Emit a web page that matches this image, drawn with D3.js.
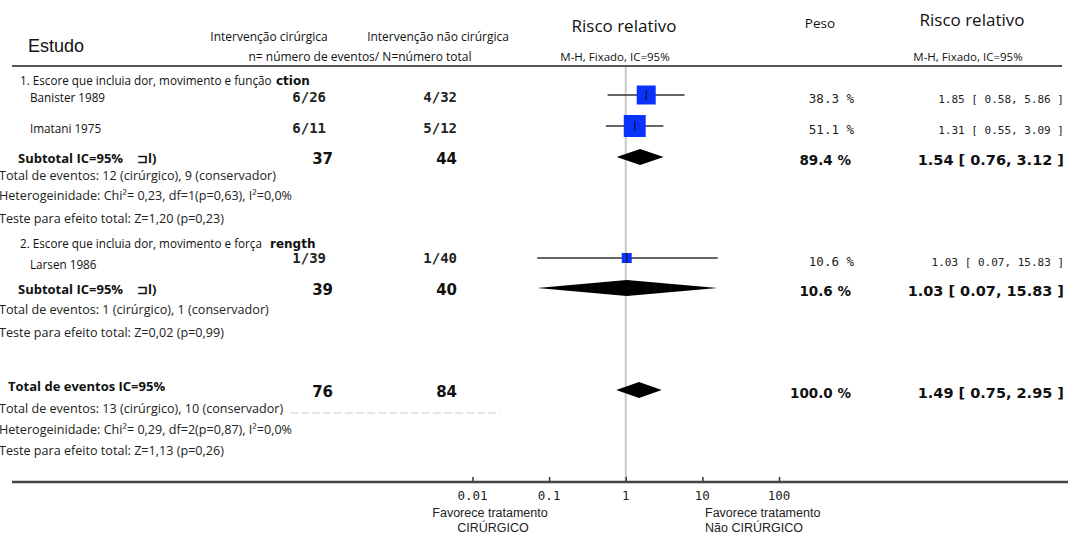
<!DOCTYPE html>
<html>
<head>
<meta charset="utf-8">
<script src="https://cdn.jsdelivr.net/npm/d3@7"></script>
<style>
  body { margin: 0; background: #fff; }
  svg { display: block; }
</style>
</head>
<body>
<div id="chart"></div>
<script>
// dados dos estudos
var studies = ["Banister 1989", "Imatani 1975", "Larsen 1986"];
var surgEvents = [6, 6, 1];
var surgTotal = [26, 11, 39];
var consEvents = [4, 5, 1];
var consTotal = [32, 12, 40];
var rr = [1.85, 1.31, 1.03];
var rrLow = [0.58, 0.55, 0.07];
var rrHigh = [5.86, 3.09, 15.83];
var weights = [38.3, 51.1, 10.6];

// subtotais e total
var sumLabels = ["Subtotal IC=95%", "Subtotal IC=95%", "Total de eventos IC=95%"];
var sumSurg = [37, 39, 76];
var sumCons = [44, 40, 84];
var sumRR = [1.54, 1.03, 1.49];
var sumLow = [0.76, 0.07, 0.75];
var sumHigh = [3.12, 15.83, 2.95];
var sumWeight = [89.4, 10.6, 100.0];

var groupTitles = ["1. Escore que incluia dor, movimento e função", "2. Escore que incluia dor, movimento e força"];
var groupArtifacts = ["ction", "rength"];
var sumNotes = [
  ["Total de eventos: 12 (cirúrgico), 9 (conservador)", "Heterogeinidade: Chi²= 0,23, df=1(p=0,63), I²=0,0%", "Teste para efeito total: Z=1,20 (p=0,23)"],
  ["Total de eventos: 1 (cirúrgico), 1 (conservador)", "Teste para efeito total: Z=0,02 (p=0,99)"],
  ["Total de eventos: 13 (cirúrgico), 10 (conservador)", "Heterogeinidade: Chi²= 0,29, df=2(p=0,87), I²=0,0%", "Teste para efeito total: Z=1,13 (p=0,26)"]
];

var tickValues = [0.01, 0.1, 1, 10, 100];
var tickLabels = ["0.01", "0.1", "1", "10", "100"];

var width = 1068, height = 534;

// posições verticais das linhas
var studyY = [95, 126, 258];
var sumY = [157, 288, 390];
var titleY = [85, 248];
var noteY = [[180, 200, 223], [314, 337], [413, 434, 455]];

var svg = d3.select("#chart").append("svg")
  .attr("width", width).attr("height", height);

var x = d3.scaleLog().domain([0.01, 100]).range([472.5, 779]);
var boxSize = d3.scaleSqrt().domain([0, 100]).range([0, 30.7]);

var bodyFont = "'Open Sans', sans-serif";
var monoFont = "'DejaVu Sans Mono', monospace";
var boldFont = "'DejaVu Sans', sans-serif";

function txt(xp, yp, s, size, family, opts) {
  opts = opts || {};
  return svg.append("text")
    .attr("x", xp).attr("y", yp)
    .attr("text-anchor", opts.anchor || "start")
    .style("font-family", family)
    .style("font-size", size + "px")
    .style("font-weight", opts.weight || "normal")
    .style("fill", opts.fill || "#111")
    .text(s);
}

// cabeçalho
txt(28, 52, "Estudo", 18, "'Liberation Sans', Arial, sans-serif");
txt(269, 41, "Intervenção cirúrgica", 12, bodyFont, {anchor: "middle"});
txt(438, 41, "Intervenção não cirúrgica", 12, bodyFont, {anchor: "middle"});
txt(360, 61, "n= número de eventos/ N=número total", 12, bodyFont, {anchor: "middle"});
txt(624, 32, "Risco relativo", 17, bodyFont, {anchor: "middle"});
txt(615, 61, "M-H, Fixado, IC=95%", 11.5, bodyFont, {anchor: "middle"});
txt(820, 28, "Peso", 13.5, bodyFont, {anchor: "middle"});
txt(972, 26, "Risco relativo", 17, bodyFont, {anchor: "middle"});
txt(968, 61, "M-H, Fixado, IC=95%", 11.5, bodyFont, {anchor: "middle"});

// linha de referência (RR = 1)
svg.append("line")
  .attr("x1", x(1)).attr("x2", x(1))
  .attr("y1", 66).attr("y2", 482)
  .attr("stroke", "#c8c8c8").attr("stroke-width", 2);

svg.append("line")
  .attr("x1", 12).attr("x2", 1062).attr("y1", 66).attr("y2", 66)
  .attr("stroke", "#555").attr("stroke-width", 2);

// títulos dos grupos
groupTitles.forEach(function (t, i) {
  txt(20, titleY[i], t, 11.7, bodyFont);
  txt(i == 0 ? 276 : 270, titleY[i], groupArtifacts[i], 12, boldFont, {weight: "bold"});
});

// estudos individuais
studies.forEach(function (s, i) {
  var y = studyY[i];
  var ty = i == 2 ? 269 : y + 7;
  txt(30, ty, s, 11.7, bodyFont);
  var cy = i == 2 ? y + 5 : y + 7;
  txt(326, cy, surgEvents[i] + "/" + surgTotal[i], 14, monoFont, {anchor: "end", weight: "bold", fill: "#222"});
  txt(457, cy, consEvents[i] + "/" + consTotal[i], 14, monoFont, {anchor: "end", weight: "bold", fill: "#222"});

  svg.append("line")
    .attr("x1", x(rrLow[i])).attr("x2", x(rrHigh[i]))
    .attr("y1", y).attr("y2", y)
    .attr("stroke", "#333").attr("stroke-width", 1.5);
  var b = boxSize(weights[i]);
  svg.append("rect")
    .attr("x", x(rr[i]) - b / 2).attr("y", y - b / 2)
    .attr("width", b).attr("height", b)
    .attr("fill", "#0a32ff");
  svg.append("line")
    .attr("x1", x(rr[i])).attr("x2", x(rr[i]))
    .attr("y1", y - Math.min(5, b / 2)).attr("y2", y + Math.min(5, b / 2))
    .attr("stroke", "#111").attr("stroke-width", 1.2);

  txt(854, y + 8, weights[i].toFixed(1) + " %", 12.5, monoFont, {anchor: "end", fill: "#222"});
  txt(1064, y + 8, rr[i].toFixed(2) + " [ " + rrLow[i].toFixed(2) + ", " + rrHigh[i].toFixed(2) + " ]", 11, monoFont, {anchor: "end", fill: "#222"});
});

// subtotais / total
sumLabels.forEach(function (l, i) {
  var y = sumY[i];
  var ly = i == 2 ? 391 : y + 6;
  txt(i == 2 ? 8 : 18, ly, l, 13, bodyFont, {weight: "bold"});
  if (i < 2) txt(137, ly, "⊐l)", 13, bodyFont, {weight: "bold"});
  var ny = y + 7;
  txt(333, ny, sumSurg[i], 15, boldFont, {anchor: "end", weight: "bold"});
  txt(457, ny, sumCons[i], 15, boldFont, {anchor: "end", weight: "bold"});

  var d = [[x(sumLow[i]), y], [x(sumRR[i]), y - 8], [x(sumHigh[i]), y], [x(sumRR[i]), y + 8]];
  svg.append("path")
    .attr("d", d3.line()(d) + "Z")
    .attr("fill", "#000");

  txt(851, y + 8, sumWeight[i].toFixed(1) + " %", 13.5, boldFont, {anchor: "end", weight: "bold"});
  txt(1064, y + 8, sumRR[i].toFixed(2) + " [ " + sumLow[i].toFixed(2) + ", " + sumHigh[i].toFixed(2) + " ]", 14.5, boldFont, {anchor: "end", weight: "bold"});

  sumNotes[i].forEach(function (n, j) {
    txt(-1, noteY[i][j], n, 12.6, bodyFont, {fill: "#222"});
  });
});

// linha tracejada clara (artefato)
svg.append("line")
  .attr("x1", 290).attr("x2", 500).attr("y1", 413).attr("y2", 413)
  .attr("stroke", "#e6e6e6").attr("stroke-width", 2).attr("stroke-dasharray", "8,3");

// eixo inferior
var axis = d3.axisTop(x).tickValues(tickValues).tickSize(5).tickFormat("");
var ag = svg.append("g").attr("transform", "translate(0,482)").call(axis);
ag.select(".domain").remove();
ag.selectAll(".tick line").attr("stroke", "#333").attr("stroke-width", 1.5);
svg.append("line")
  .attr("x1", 12).attr("x2", 1068).attr("y1", 482).attr("y2", 482)
  .attr("stroke", "#444").attr("stroke-width", 2.5);

svg.selectAll(".tickLbl")
  .data(tickValues)
  .enter().append("text")
  .attr("class", "tickLbl")
  .attr("x", d => x(d))
  .attr("y", 500)
  .attr("text-anchor", "middle")
  .style("font-family", monoFont)
  .style("font-size", "12.5px")
  .style("fill", "#222")
  .text((d, i) => tickLabels[i]);

var favFont = "'Liberation Sans', Arial, sans-serif";
txt(490, 517, "Favorece tratamento", 12.5, favFont, {anchor: "middle", fill: "#222"});
txt(493, 532, "CIRÚRGICO", 12.5, favFont, {anchor: "middle", fill: "#222"});
txt(705, 517, "Favorece tratamento", 12.5, favFont, {fill: "#222"});
txt(705, 532, "Não CIRÚRGICO", 12.5, favFont, {fill: "#222"});
</script>
</body>
</html>
